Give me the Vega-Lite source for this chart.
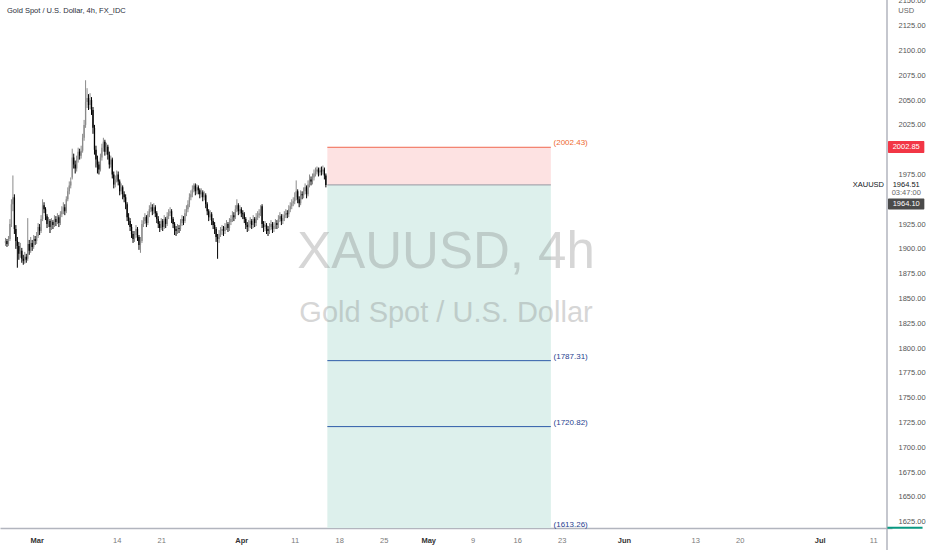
{
"$schema": "https://vega.github.io/schema/vega-lite/v6.json",
"width": 892, "height": 528,
"autosize": "none",
"padding": {"left": 0, "top": 0, "right": 40, "bottom": 22},
"background": "white",
"config": {"view": {"stroke": null}, "font": "Liberation Sans"},
"datasets": {
"candles": [
{"n":-21,"o":1906,"h":1911,"l":1903,"c":1908},{"n":-20,"o":1908,"h":1910,"l":1902,"c":1905},{"n":-19,"o":1905,"h":1913,"l":1903,"c":1910},
{"n":-18,"o":1910,"h":1930,"l":1908,"c":1925},{"n":-17,"o":1925,"h":1950,"l":1922,"c":1945},{"n":-16,"o":1945,"h":1974,"l":1938,"c":1952},{"n":-15,"o":1952,"h":1955,"l":1915,"c":1920},{"n":-14,"o":1920,"h":1924,"l":1900,"c":1908},{"n":-13,"o":1908,"h":1912,"l":1881,"c":1903},
{"n":-12,"o":1903,"h":1907,"l":1889,"c":1895},{"n":-11,"o":1895,"h":1906,"l":1891,"c":1898},{"n":-10,"o":1898,"h":1901,"l":1886,"c":1890},{"n":-9,"o":1890,"h":1894,"l":1884,"c":1888},{"n":-8,"o":1888,"h":1897,"l":1885,"c":1892},{"n":-7,"o":1892,"h":1895,"l":1886,"c":1889},
{"n":-6,"o":1890,"h":1931,"l":1888,"c":1905},{"n":-5,"o":1905,"h":1909,"l":1894,"c":1898},{"n":-4,"o":1898,"h":1912,"l":1896,"c":1906},{"n":-3,"o":1906,"h":1909,"l":1898,"c":1902},{"n":-2,"o":1902,"h":1914,"l":1900,"c":1910},{"n":-1,"o":1910,"h":1913,"l":1904,"c":1908},
{"n":0,"o":1908,"h":1917,"l":1905,"c":1913},{"n":1,"o":1913,"h":1926,"l":1911,"c":1922},{"n":2,"o":1922,"h":1925,"l":1914,"c":1918},{"n":3,"o":1918,"h":1934,"l":1916,"c":1930},{"n":4,"o":1930,"h":1950,"l":1928,"c":1944},{"n":5,"o":1944,"h":1947,"l":1936,"c":1940},
{"n":6,"o":1940,"h":1942,"l":1929,"c":1933},{"n":7,"o":1933,"h":1935,"l":1921,"c":1925},{"n":8,"o":1925,"h":1932,"l":1922,"c":1928},{"n":9,"o":1928,"h":1930,"l":1916,"c":1922},{"n":10,"o":1922,"h":1931,"l":1919,"c":1927},{"n":11,"o":1927,"h":1929,"l":1920,"c":1924},
{"n":12,"o":1924,"h":1934,"l":1922,"c":1930},{"n":13,"o":1930,"h":1933,"l":1923,"c":1927},{"n":14,"o":1927,"h":1936,"l":1925,"c":1932},{"n":15,"o":1932,"h":1934,"l":1922,"c":1926},{"n":16,"o":1926,"h":1938,"l":1924,"c":1935},{"n":17,"o":1935,"h":1943,"l":1932,"c":1938},
{"n":18,"o":1938,"h":1947,"l":1935,"c":1942},{"n":19,"o":1942,"h":1945,"l":1934,"c":1938},{"n":20,"o":1938,"h":1953,"l":1936,"c":1950},{"n":21,"o":1950,"h":1962,"l":1948,"c":1958},{"n":22,"o":1958,"h":1968,"l":1955,"c":1964},{"n":23,"o":1964,"h":1972,"l":1961,"c":1968},
{"n":24,"o":1972,"h":2001,"l":1970,"c":1992},{"n":25,"o":1992,"h":1996,"l":1981,"c":1985},{"n":26,"o":1985,"h":1989,"l":1976,"c":1981},{"n":27,"o":1981,"h":1994,"l":1978,"c":1990},{"n":28,"o":1990,"h":2002,"l":1987,"c":1998},{"n":29,"o":1998,"h":2001,"l":1990,"c":1994},
{"n":30,"o":1994,"h":2004,"l":1991,"c":1999},{"n":31,"o":1999,"h":2016,"l":1997,"c":2012},{"n":32,"o":2012,"h":2030,"l":2009,"c":2025},{"n":33,"o":2025,"h":2070,"l":2022,"c":2048},{"n":34,"o":2048,"h":2062,"l":2042,"c":2052},{"n":35,"o":2052,"h":2056,"l":2040,"c":2045},
{"n":36,"o":2045,"h":2057,"l":2041,"c":2050},{"n":37,"o":2050,"h":2053,"l":2035,"c":2040},{"n":38,"o":2040,"h":2043,"l":2016,"c":2022},{"n":39,"o":2022,"h":2025,"l":1995,"c":2000},{"n":40,"o":2000,"h":2004,"l":1982,"c":1990},{"n":41,"o":1990,"h":1994,"l":1976,"c":1985},
{"n":42,"o":1985,"h":1988,"l":1975,"c":1980},{"n":43,"o":1980,"h":1996,"l":1978,"c":1992},{"n":44,"o":1992,"h":2006,"l":1989,"c":2002},{"n":45,"o":2002,"h":2012,"l":1998,"c":2008},{"n":46,"o":2008,"h":2010,"l":1994,"c":1998},{"n":47,"o":1998,"h":2007,"l":1995,"c":2003},
{"n":48,"o":2003,"h":2005,"l":1990,"c":1995},{"n":49,"o":1995,"h":1998,"l":1981,"c":1985},{"n":50,"o":1985,"h":1994,"l":1982,"c":1990},{"n":51,"o":1990,"h":1992,"l":1971,"c":1975},{"n":52,"o":1975,"h":1978,"l":1961,"c":1965},{"n":53,"o":1965,"h":1974,"l":1962,"c":1970},
{"n":54,"o":1970,"h":1979,"l":1967,"c":1975},{"n":55,"o":1975,"h":1978,"l":1964,"c":1968},{"n":56,"o":1968,"h":1970,"l":1954,"c":1958},{"n":57,"o":1958,"h":1966,"l":1955,"c":1962},{"n":58,"o":1962,"h":1964,"l":1950,"c":1955},{"n":59,"o":1955,"h":1958,"l":1947,"c":1952},
{"n":60,"o":1952,"h":1955,"l":1940,"c":1945},{"n":61,"o":1945,"h":1947,"l":1928,"c":1932},{"n":62,"o":1932,"h":1936,"l":1924,"c":1928},{"n":63,"o":1928,"h":1931,"l":1918,"c":1922},{"n":64,"o":1922,"h":1925,"l":1911,"c":1915},{"n":65,"o":1915,"h":1918,"l":1906,"c":1910},
{"n":66,"o":1910,"h":1918,"l":1907,"c":1914},{"n":67,"o":1914,"h":1924,"l":1911,"c":1920},{"n":68,"o":1920,"h":1922,"l":1908,"c":1912},{"n":69,"o":1912,"h":1914,"l":1899,"c":1904},{"n":70,"o":1904,"h":1912,"l":1896,"c":1908},{"n":71,"o":1908,"h":1929,"l":1906,"c":1925},
{"n":72,"o":1925,"h":1932,"l":1922,"c":1928},{"n":73,"o":1928,"h":1936,"l":1925,"c":1932},{"n":74,"o":1932,"h":1934,"l":1922,"c":1926},{"n":75,"o":1926,"h":1938,"l":1924,"c":1935},{"n":76,"o":1935,"h":1944,"l":1932,"c":1940},{"n":77,"o":1940,"h":1947,"l":1937,"c":1942},
{"n":78,"o":1942,"h":1945,"l":1934,"c":1938},{"n":79,"o":1938,"h":1946,"l":1935,"c":1942},{"n":80,"o":1942,"h":1944,"l":1932,"c":1936},{"n":81,"o":1936,"h":1938,"l":1926,"c":1930},{"n":82,"o":1930,"h":1933,"l":1921,"c":1925},{"n":83,"o":1925,"h":1928,"l":1917,"c":1921},
{"n":84,"o":1921,"h":1931,"l":1919,"c":1928},{"n":85,"o":1928,"h":1930,"l":1918,"c":1922},{"n":86,"o":1922,"h":1934,"l":1920,"c":1930},{"n":87,"o":1930,"h":1932,"l":1921,"c":1925},{"n":88,"o":1925,"h":1937,"l":1923,"c":1933},{"n":89,"o":1933,"h":1940,"l":1930,"c":1936},
{"n":90,"o":1936,"h":1942,"l":1933,"c":1938},{"n":91,"o":1938,"h":1940,"l":1926,"c":1930},{"n":92,"o":1930,"h":1932,"l":1921,"c":1925},{"n":93,"o":1925,"h":1927,"l":1914,"c":1920},{"n":94,"o":1920,"h":1923,"l":1913,"c":1918},{"n":95,"o":1918,"h":1925,"l":1915,"c":1921},
{"n":96,"o":1921,"h":1924,"l":1916,"c":1920},{"n":97,"o":1920,"h":1930,"l":1918,"c":1926},{"n":98,"o":1926,"h":1934,"l":1923,"c":1930},{"n":99,"o":1930,"h":1933,"l":1924,"c":1928},{"n":100,"o":1928,"h":1940,"l":1926,"c":1936},{"n":101,"o":1936,"h":1944,"l":1933,"c":1940},
{"n":102,"o":1940,"h":1949,"l":1937,"c":1945},{"n":103,"o":1945,"h":1956,"l":1942,"c":1952},{"n":104,"o":1952,"h":1959,"l":1949,"c":1955},{"n":105,"o":1955,"h":1964,"l":1952,"c":1960},{"n":106,"o":1960,"h":1966,"l":1957,"c":1964},{"n":107,"o":1964,"h":1966,"l":1954,"c":1958},
{"n":108,"o":1958,"h":1965,"l":1955,"c":1962},{"n":109,"o":1962,"h":1964,"l":1955,"c":1959},{"n":110,"o":1959,"h":1961,"l":1951,"c":1955},{"n":111,"o":1955,"h":1961,"l":1952,"c":1957},{"n":112,"o":1957,"h":1959,"l":1948,"c":1952},{"n":113,"o":1952,"h":1958,"l":1949,"c":1954},
{"n":114,"o":1954,"h":1956,"l":1941,"c":1945},{"n":115,"o":1945,"h":1947,"l":1934,"c":1938},{"n":116,"o":1938,"h":1940,"l":1928,"c":1932},{"n":117,"o":1932,"h":1939,"l":1929,"c":1935},{"n":118,"o":1935,"h":1937,"l":1924,"c":1928},{"n":119,"o":1928,"h":1931,"l":1920,"c":1924},
{"n":120,"o":1924,"h":1927,"l":1915,"c":1920},{"n":121,"o":1920,"h":1922,"l":1907,"c":1912},{"n":122,"o":1912,"h":1915,"l":1890,"c":1910},{"n":123,"o":1910,"h":1919,"l":1906,"c":1915},{"n":124,"o":1915,"h":1922,"l":1912,"c":1918},{"n":125,"o":1918,"h":1924,"l":1914,"c":1920},
{"n":126,"o":1920,"h":1923,"l":1913,"c":1918},{"n":127,"o":1918,"h":1926,"l":1915,"c":1922},{"n":128,"o":1922,"h":1929,"l":1919,"c":1925},{"n":129,"o":1925,"h":1927,"l":1917,"c":1921},{"n":130,"o":1921,"h":1931,"l":1918,"c":1927},{"n":131,"o":1927,"h":1934,"l":1924,"c":1930},
{"n":132,"o":1930,"h":1938,"l":1927,"c":1934},{"n":133,"o":1934,"h":1937,"l":1928,"c":1932},{"n":134,"o":1932,"h":1944,"l":1930,"c":1940},{"n":135,"o":1940,"h":1950,"l":1937,"c":1944},{"n":136,"o":1944,"h":1946,"l":1934,"c":1938},{"n":137,"o":1938,"h":1944,"l":1935,"c":1940},
{"n":138,"o":1940,"h":1942,"l":1932,"c":1936},{"n":139,"o":1936,"h":1939,"l":1930,"c":1935},{"n":140,"o":1935,"h":1937,"l":1926,"c":1930},{"n":141,"o":1930,"h":1932,"l":1920,"c":1924},{"n":142,"o":1924,"h":1927,"l":1917,"c":1922},{"n":143,"o":1922,"h":1929,"l":1918,"c":1925},
{"n":144,"o":1925,"h":1932,"l":1921,"c":1928},{"n":145,"o":1928,"h":1930,"l":1920,"c":1924},{"n":146,"o":1924,"h":1934,"l":1921,"c":1930},{"n":147,"o":1930,"h":1932,"l":1922,"c":1926},{"n":148,"o":1926,"h":1936,"l":1923,"c":1932},{"n":149,"o":1932,"h":1938,"l":1929,"c":1934},
{"n":150,"o":1934,"h":1940,"l":1931,"c":1936},{"n":151,"o":1936,"h":1944,"l":1933,"c":1940},{"n":152,"o":1943,"h":1945,"l":1921,"c":1925},{"n":153,"o":1925,"h":1928,"l":1917,"c":1922},{"n":154,"o":1922,"h":1928,"l":1918,"c":1924},{"n":155,"o":1924,"h":1926,"l":1915,"c":1920},
{"n":156,"o":1920,"h":1923,"l":1913,"c":1918},{"n":157,"o":1918,"h":1926,"l":1915,"c":1922},{"n":158,"o":1922,"h":1929,"l":1919,"c":1925},{"n":159,"o":1925,"h":1927,"l":1916,"c":1920},{"n":160,"o":1920,"h":1927,"l":1917,"c":1923},{"n":161,"o":1923,"h":1930,"l":1920,"c":1926},
{"n":162,"o":1926,"h":1929,"l":1920,"c":1924},{"n":163,"o":1924,"h":1934,"l":1921,"c":1930},{"n":164,"o":1930,"h":1937,"l":1927,"c":1933},{"n":165,"o":1933,"h":1935,"l":1924,"c":1928},{"n":166,"o":1928,"h":1935,"l":1925,"c":1931},{"n":167,"o":1931,"h":1938,"l":1928,"c":1934},
{"n":168,"o":1934,"h":1940,"l":1931,"c":1936},{"n":169,"o":1936,"h":1939,"l":1931,"c":1935},{"n":170,"o":1935,"h":1944,"l":1932,"c":1940},{"n":171,"o":1940,"h":1947,"l":1937,"c":1943},{"n":172,"o":1943,"h":1950,"l":1940,"c":1946},{"n":173,"o":1946,"h":1952,"l":1943,"c":1948},
{"n":174,"o":1948,"h":1957,"l":1945,"c":1952},{"n":175,"o":1952,"h":1969,"l":1949,"c":1958},{"n":176,"o":1958,"h":1960,"l":1946,"c":1950},{"n":177,"o":1950,"h":1953,"l":1942,"c":1946},{"n":178,"o":1946,"h":1959,"l":1944,"c":1955},{"n":179,"o":1955,"h":1958,"l":1950,"c":1954},
{"n":180,"o":1954,"h":1962,"l":1951,"c":1958},{"n":181,"o":1958,"h":1966,"l":1955,"c":1962},{"n":182,"o":1962,"h":1964,"l":1951,"c":1955},{"n":183,"o":1955,"h":1969,"l":1953,"c":1965},{"n":184,"o":1965,"h":1975,"l":1962,"c":1970},{"n":185,"o":1970,"h":1973,"l":1964,"c":1968},
{"n":186,"o":1968,"h":1976,"l":1965,"c":1972},{"n":187,"o":1972,"h":1980,"l":1969,"c":1976},{"n":188,"o":1976,"h":1982,"l":1973,"c":1978},{"n":189,"o":1978,"h":1983,"l":1975,"c":1980},{"n":190,"o":1980,"h":1982,"l":1973,"c":1977},{"n":191,"o":1977,"h":1982,"l":1974,"c":1979},
{"n":192,"o":1979,"h":1983,"l":1974,"c":1978},{"n":193,"o":1978,"h":1984,"l":1975,"c":1980},{"n":194,"o":1980,"h":1982,"l":1970,"c":1974},{"n":195,"o":1974,"h":1976,"l":1962,"c":1964.5}
],
"zones": [
{"zone":"stop","n":196,"n2":346.7,"p":1964.5,"p2":2002.43},
{"zone":"target","n":196,"n2":346.7,"p":1613.26,"p2":1964.5}
],
"levels": [
{"lvl":"stop","n":196,"n2":346.7,"p":2002.43},
{"lvl":"entry","n":196,"n2":346.7,"p":1964.5},
{"lvl":"tp","n":196,"n2":346.7,"p":1787.31},
{"lvl":"tp","n":196,"n2":346.7,"p":1720.82}
],
"levelLabels": [
{"lvl":"stop","n":348.5,"p":2002.43,"t":"(2002.43)"},
{"lvl":"tp","n":348.5,"p":1787.31,"t":"(1787.31)"},
{"lvl":"tp","n":348.5,"p":1720.82,"t":"(1720.82)"},
{"lvl":"tp","n":348.5,"p":1617.5,"t":"(1613.26)"}
],
"scaleBoxes": [
{"kind":"ask","n":574,"n2":598.5,"p":2008.8,"p2":1996.7},
{"kind":"bid","n":574,"n2":598.5,"p":1950.8,"p2":1939.7}
],
"scaleTexts": [
{"kind":"white","n":586.3,"p":2002.85,"t":"2002.85"},
{"kind":"white","n":586.3,"p":1945.3,"t":"1964.10"},
{"kind":"black","n":586.3,"p":1964.5,"t":"1964.51"},
{"kind":"gray","n":586.3,"p":1955.9,"t":"03:47:00"},
{"kind":"gray","n":586.3,"p":2139.8,"t":"USD"}
],
"scaleRules": [
{"kind":"axis","n":573.33,"n2":573.33,"p":2152,"p2":1596},
{"kind":"tp","n":573.6,"n2":597.3,"p":1618.9,"p2":1618.9}
]
},
"encoding": {
"x": {"field": "n", "type": "quantitative",
 "scale": {"domain": [-21.33, 573.33], "nice": false, "zero": false},
 "axis": {"title": null, "orient": "bottom", "grid": false, "ticks": false,
  "values": [0,54,84,138,174,204,234,264,294,324,354,396,444,474,528,564],
  "labelExpr": "datum.value == 0 ? 'Mar' : datum.value == 54 ? '14' : datum.value == 84 ? '21' : datum.value == 138 ? 'Apr' : datum.value == 174 ? '11' : datum.value == 204 ? '18' : datum.value == 234 ? '25' : datum.value == 264 ? 'May' : datum.value == 294 ? '9' : datum.value == 324 ? '16' : datum.value == 354 ? '23' : datum.value == 396 ? 'Jun' : datum.value == 444 ? '13' : datum.value == 474 ? '20' : datum.value == 528 ? 'Jul' : '11'",
  "labelFontSize": 7.5, "labelFont": "Liberation Sans", "labelPadding": 8, "labelFlush": false, "labelOverlap": false,
  "labelColor": {"condition": {"test": "indexof([0,138,264,396,528], datum.value) >= 0", "value": "#333333"}, "value": "#7a7a7a"},
  "labelFontWeight": {"condition": {"test": "indexof([0,138,264,396,528], datum.value) >= 0", "value": "bold"}, "value": "normal"},
  "domainColor": "#b2b5be", "domainWidth": 1.5}},
"y": {"field": "p", "type": "quantitative",
 "scale": {"domain": [1618.6, 2150.9], "nice": false, "zero": false},
 "axis": {"title": null, "orient": "right", "grid": false, "ticks": false, "domain": false,
  "values": [1625,1650,1675,1700,1725,1750,1775,1800,1825,1850,1875,1900,1925,1975,2025,2050,2075,2100,2125,2150],
  "format": ".2f", "labelFontSize": 7.5, "labelFont": "Liberation Sans", "labelColor": "#555555", "labelPadding": 6, "labelFlush": false, "labelOverlap": false}}
},
"layer": [
{"data": {"name": "zones"},
 "mark": {"type": "rect", "clip": true},
 "encoding": {"x2": {"field": "n2"}, "y2": {"field": "p2"},
  "color": {"condition": {"test": "datum.zone == 'stop'", "value": "#fde2e2"}, "value": "#ddf0ec"}}},
{"data": {"values": [{"t": "XAUUSD, 4h", "n": 276, "p": 1880.8}]},
 "mark": {"type": "text", "align": "center", "baseline": "alphabetic", "fontSize": 51, "font": "Liberation Sans", "fill": "#7a7a7a", "opacity": 0.3},
 "encoding": {"text": {"field": "t"}}},
{"data": {"values": [{"t": "Gold Spot / U.S. Dollar", "n": 276, "p": 1826.3}]},
 "mark": {"type": "text", "align": "center", "baseline": "alphabetic", "fontSize": 29, "font": "Liberation Sans", "fill": "#7a7a7a", "opacity": 0.3},
 "encoding": {"text": {"field": "t"}}},
{"data": {"name": "levels"},
 "mark": {"type": "rule", "strokeWidth": 1},
 "encoding": {"x2": {"field": "n2"},
  "color": {"condition": [{"test": "datum.lvl == 'stop'", "value": "#f0674f"}, {"test": "datum.lvl == 'entry'", "value": "#9598a1"}], "value": "#2f5ca8"}}},
{"data": {"name": "levelLabels"},
 "mark": {"type": "text", "align": "left", "baseline": "middle", "dy": -4, "fontSize": 8, "font": "Liberation Sans"},
 "encoding": {"text": {"field": "t"},
  "color": {"condition": {"test": "datum.lvl == 'stop'", "value": "#ee6a2f"}, "value": "#1f3f8f"}}},
{"data": {"name": "candles"},
 "mark": {"type": "rule", "strokeWidth": 1},
 "encoding": {"y": {"field": "l", "type": "quantitative"}, "y2": {"field": "h"},
  "color": {"condition": {"test": "datum.c >= datum.o", "value": "#8a8a8a"}, "value": "#000000"}}},
{"data": {"name": "candles"},
 "mark": {"type": "bar", "size": 1.3},
 "encoding": {"y": {"field": "o", "type": "quantitative"}, "y2": {"field": "c"},
  "color": {"condition": {"test": "datum.c >= datum.o", "value": "#8a8a8a"}, "value": "#000000"}}},
{"data": {"values": [{"t": "Gold Spot / U.S. Dollar, 4h, FX_IDC", "n": -20, "p": 2139.8}]},
 "mark": {"type": "text", "align": "left", "baseline": "middle", "fontSize": 7.5, "font": "Liberation Sans", "fill": "#2a2e39"},
 "encoding": {"text": {"field": "t"}}},
{"data": {"name": "scaleRules"},
 "mark": {"type": "rule", "clip": false},
 "encoding": {"x2": {"field": "n2"}, "y2": {"field": "p2"},
  "color": {"condition": {"test": "datum.kind == 'axis'", "value": "#b2b5be"}, "value": "#089981"},
  "strokeWidth": {"condition": {"test": "datum.kind == 'axis'", "value": 1.5}, "value": 2}}},
{"data": {"name": "scaleBoxes"},
 "mark": {"type": "rect", "clip": false, "cornerRadius": 1},
 "encoding": {"x2": {"field": "n2"}, "y2": {"field": "p2"},
  "color": {"condition": {"test": "datum.kind == 'ask'", "value": "#f23645"}, "value": "#4a4a4a"}}},
{"data": {"name": "scaleTexts"},
 "mark": {"type": "text", "align": "center", "baseline": "middle", "fontSize": 7.5, "font": "Liberation Sans", "clip": false},
 "encoding": {"text": {"field": "t"},
  "color": {"condition": [{"test": "datum.kind == 'white'", "value": "#ffffff"}, {"test": "datum.kind == 'black'", "value": "#131722"}], "value": "#666666"}}},
{"data": {"values": [{"t": "XAUUSD", "n": 571.3, "p": 1964.5}]},
 "mark": {"type": "text", "align": "right", "baseline": "middle", "fontSize": 7.5, "font": "Liberation Sans", "fill": "#131722", "clip": false},
 "encoding": {"text": {"field": "t"}}}
]
}
